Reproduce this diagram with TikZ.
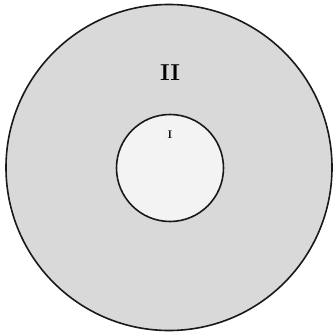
\documentclass[tikz,border=0pt]{standalone}
\usepackage{tikz}
\usetikzlibrary{positioning}
\definecolor{ink}{RGB}{25,25,25}
\definecolor{ringII}{RGB}{217,217,217}
\definecolor{coreI}{RGB}{243,243,243}
\tikzset{
  zone/.style={circle,draw=ink,line width=1.6pt,inner sep=0pt},
  tag/.style={inner sep=1pt,text=black},
}
\begin{document}
\begin{tikzpicture}[x=1pt,y=-1pt]
  \useasboundingbox (0,0) rectangle (332,334);
  \node[zone,fill=ringII,minimum size=326pt] (outer) at (169,167.5) {};
  \node[zone,fill=coreI,minimum size=107pt] (inner) at (170,168) {};
  \node[tag,font=\fontsize{23}{25}\selectfont\bfseries] (lblII) at (170,73) {II};
  \node[tag,font=\fontsize{11}{12}\selectfont\bfseries] (lblI) at (170,135) {I};
\end{tikzpicture}
\end{document}
